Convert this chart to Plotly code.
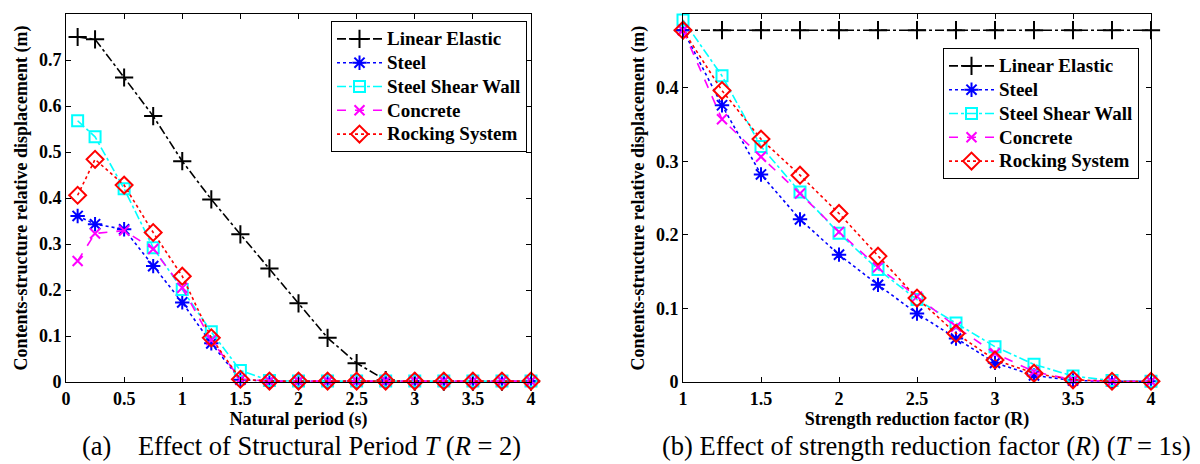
import plotly.graph_objects as go

# ---- data: (a) effect of structural period, R = 2 ----
period = [0.1, 0.25, 0.5, 0.75, 1.0, 1.25, 1.5, 1.75, 2.0, 2.25, 2.5, 2.75, 3.0, 3.25, 3.5, 3.75, 4.0]
a_linear = [0.750, 0.745, 0.662, 0.578, 0.480, 0.397, 0.321, 0.247, 0.171, 0.096, 0.041, 0.004, 0.001, 0.001, 0.001, 0.001, 0.001]
a_steel = [0.361, 0.343, 0.332, 0.252, 0.173, 0.084, 0.005, 0.002, 0.002, 0.002, 0.002, 0.002, 0.002, 0.002, 0.002, 0.002, 0.002]
a_ssw = [0.568, 0.533, 0.420, 0.292, 0.201, 0.109, 0.025, 0.003, 0.002, 0.002, 0.002, 0.002, 0.002, 0.002, 0.002, 0.002, 0.002]
a_concrete = [0.263, 0.323, 0.329, 0.289, 0.205, 0.091, 0.006, 0.002, 0.002, 0.002, 0.002, 0.002, 0.002, 0.002, 0.002, 0.002, 0.002]
a_rocking = [0.406, 0.484, 0.428, 0.325, 0.230, 0.096, 0.006, 0.002, 0.002, 0.002, 0.002, 0.002, 0.002, 0.002, 0.002, 0.002, 0.002]

# ---- data: (b) effect of strength reduction factor, T = 1 s ----
rfactor = [1.0, 1.25, 1.5, 1.75, 2.0, 2.25, 2.5, 2.75, 3.0, 3.25, 3.5, 3.75, 4.0]
b_linear = [0.478] * 13
b_steel = [0.478, 0.376, 0.282, 0.221, 0.173, 0.132, 0.093, 0.059, 0.026, 0.009, 0.002, 0.001, 0.001]
b_ssw = [0.492, 0.416, 0.320, 0.258, 0.202, 0.153, 0.112, 0.080, 0.048, 0.024, 0.008, 0.002, 0.001]
b_concrete = [0.478, 0.357, 0.306, 0.256, 0.204, 0.156, 0.116, 0.075, 0.039, 0.014, 0.003, 0.001, 0.001]
b_rocking = [0.478, 0.396, 0.330, 0.281, 0.229, 0.171, 0.114, 0.066, 0.030, 0.012, 0.003, 0.001, 0.001]

# ---- tick labels ----
a_xticks = [0, 0.5, 1, 1.5, 2, 2.5, 3, 3.5, 4]
a_yticks = [0, 0.1, 0.2, 0.3, 0.4, 0.5, 0.6, 0.7, 0.8]
b_xticks = [1, 1.5, 2, 2.5, 3, 3.5, 4]
b_yticks = [0, 0.1, 0.2, 0.3, 0.4, 0.5]

names = ["Linear Elastic", "Steel", "Steel Shear Wall", "Concrete", "Rocking System"]
colors = ["black", "blue", "cyan", "magenta", "red"]
dashes = ["dashdot", "dot", "dashdot", "dash", "dot"]
symbols = ["cross-thin-open", "asterisk-open", "square-open", "x-thin-open", "diamond-open"]
sizes = [13, 12, 11, 10, 13]

FONT = "Liberation Serif"


def b(t):
    return "<b>%s</b>" % t


def fmt(v):
    return "%g" % v


def legend_label(t):
    # larger glyphs while the legend keeps a compact row height
    return "<b><span style='font-size:19px'>%s</span></b>" % t


fig = go.Figure()


def add_series(xs, ys_list, xaxis, yaxis, legend):
    for name, ys, c, d, s, sz in zip(names, ys_list, colors, dashes, symbols, sizes):
        fig.add_trace(go.Scatter(
            x=xs, y=ys, name=legend_label(name), mode="lines+markers",
            line=dict(color=c, dash=d, width=1.6),
            marker=dict(symbol=s, size=sz, color=c, line=dict(color=c, width=2)),
            xaxis=xaxis, yaxis=yaxis, legend=legend, cliponaxis=False,
        ))


add_series(period, [a_linear, a_steel, a_ssw, a_concrete, a_rocking], "x", "y", "legend")
add_series(rfactor, [b_linear, b_steel, b_ssw, b_concrete, b_rocking], "x2", "y2", "legend2")

OFF = 8  # page body margin
W, H = 1200 - OFF, 464 - OFF


def px(x):
    return (x - OFF) / W


def py(y):
    return 1 - (y - OFF) / H


axis_common = dict(
    showline=True, linecolor="black", linewidth=1, mirror="ticks", automargin=False,
    ticks="inside", ticklen=5, tickcolor="black", showgrid=False, zeroline=False,
    tickfont=dict(family=FONT, size=18, color="black"),
    title_font=dict(family=FONT, size=18, color="black"),
)
legend_common = dict(xanchor="left", yanchor="top", bordercolor="black", borderwidth=1, bgcolor="white",
                     itemwidth=45, font=dict(family=FONT, size=16, color="black"), tracegroupgap=0)

fig.update_layout(
    width=W, height=H,
    margin=dict(l=0, r=0, t=0, b=0, autoexpand=False),
    paper_bgcolor="white", plot_bgcolor="white",
    font=dict(family=FONT, color="black"),
    xaxis=dict(domain=[px(66), px(531)], range=[0, 4], tickvals=a_xticks,
               ticktext=[b(fmt(v)) for v in a_xticks],
               title=dict(text=b("Natural period (s)"), standoff=3), anchor="y", **axis_common),
    yaxis=dict(domain=[py(382), py(14)], range=[0, 0.8], tickvals=a_yticks,
               ticktext=[b(fmt(v)) for v in a_yticks],
               title=dict(text=b("Contents-structure relative displacement (m)"), standoff=6), anchor="x", **axis_common),
    xaxis2=dict(domain=[px(683), px(1151)], range=[1, 4], tickvals=b_xticks,
                ticktext=[b(fmt(v)) for v in b_xticks],
                title=dict(text=b("Strength reduction factor (R)"), standoff=3), anchor="y2", **axis_common),
    yaxis2=dict(domain=[py(382), py(14)], range=[0, 0.5], tickvals=b_yticks,
                ticktext=[b(fmt(v)) for v in b_yticks],
                title=dict(text=b("Contents-structure relative displacement (m)"), standoff=6), anchor="x2", **axis_common),
    legend=dict(x=px(331), y=py(21), **legend_common),
    legend2=dict(x=px(943), y=py(48), **legend_common),
    annotations=[
        dict(text="(a)&nbsp;&nbsp;&nbsp;&nbsp;Effect of Structural Period <i>T</i> (<i>R</i> = 2)", x=px(301), y=py(446),
             xref="paper", yref="paper", showarrow=False, xanchor="center", yanchor="middle",
             font=dict(family=FONT, size=26.5, color="black")),
        dict(text="(b) Effect of strength reduction factor (<i>R</i>) (<i>T</i> = 1s)", x=px(926), y=py(446),
             xref="paper", yref="paper", showarrow=False, xanchor="center", yanchor="middle",
             font=dict(family=FONT, size=26.5, color="black")),
    ],
)

fig.write_html("out.html")
